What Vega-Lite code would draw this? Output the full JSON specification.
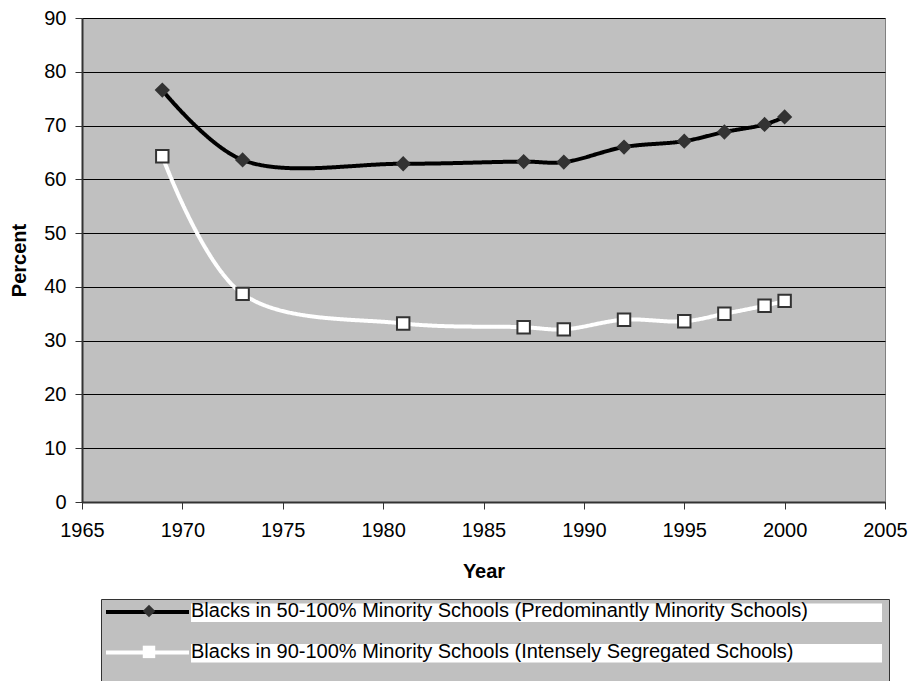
{
  "$schema": "https://vega.github.io/schema/vega-lite/v6.json",
  "width": 803,
  "height": 484,
  "padding": {"left": 9, "top": 8, "right": 0, "bottom": 0},
  "background": "white",
  "config": {
    "font": "Liberation Sans",
    "view": {"fill": "#C0C0C0", "stroke": "#808080", "strokeWidth": 1},
    "axis": {
      "labelFont": "Liberation Sans", "labelFontSize": 20, "labelColor": "black",
      "titleFont": "Liberation Sans", "titleFontSize": 20, "titleFontWeight": "bold", "titleColor": "black",
      "domainColor": "#333333", "domainWidth": 2, "tickColor": "#333333", "tickWidth": 1, "tickSize": 7,
      "gridColor": "black", "gridWidth": 1, "gridOpacity": 1
    }
  },
  "data": {
    "values": [
      {"series": "Blacks in 50-100% Minority Schools (Predominantly Minority Schools)", "year": 1969, "pct": 76.6},
      {"series": "Blacks in 50-100% Minority Schools (Predominantly Minority Schools)", "year": 1973, "pct": 63.6},
      {"series": "Blacks in 50-100% Minority Schools (Predominantly Minority Schools)", "year": 1981, "pct": 62.9},
      {"series": "Blacks in 50-100% Minority Schools (Predominantly Minority Schools)", "year": 1987, "pct": 63.3},
      {"series": "Blacks in 50-100% Minority Schools (Predominantly Minority Schools)", "year": 1989, "pct": 63.2},
      {"series": "Blacks in 50-100% Minority Schools (Predominantly Minority Schools)", "year": 1992, "pct": 66.0},
      {"series": "Blacks in 50-100% Minority Schools (Predominantly Minority Schools)", "year": 1995, "pct": 67.1},
      {"series": "Blacks in 50-100% Minority Schools (Predominantly Minority Schools)", "year": 1997, "pct": 68.8},
      {"series": "Blacks in 50-100% Minority Schools (Predominantly Minority Schools)", "year": 1999, "pct": 70.2},
      {"series": "Blacks in 50-100% Minority Schools (Predominantly Minority Schools)", "year": 2000, "pct": 71.6},
      {"series": "Blacks in 90-100% Minority Schools (Intensely Segregated Schools)", "year": 1969, "pct": 64.3},
      {"series": "Blacks in 90-100% Minority Schools (Intensely Segregated Schools)", "year": 1973, "pct": 38.7},
      {"series": "Blacks in 90-100% Minority Schools (Intensely Segregated Schools)", "year": 1981, "pct": 33.2},
      {"series": "Blacks in 90-100% Minority Schools (Intensely Segregated Schools)", "year": 1987, "pct": 32.5},
      {"series": "Blacks in 90-100% Minority Schools (Intensely Segregated Schools)", "year": 1989, "pct": 32.1},
      {"series": "Blacks in 90-100% Minority Schools (Intensely Segregated Schools)", "year": 1992, "pct": 33.9},
      {"series": "Blacks in 90-100% Minority Schools (Intensely Segregated Schools)", "year": 1995, "pct": 33.6},
      {"series": "Blacks in 90-100% Minority Schools (Intensely Segregated Schools)", "year": 1997, "pct": 35.0},
      {"series": "Blacks in 90-100% Minority Schools (Intensely Segregated Schools)", "year": 1999, "pct": 36.5},
      {"series": "Blacks in 90-100% Minority Schools (Intensely Segregated Schools)", "year": 2000, "pct": 37.4}
    ]
  },
  "encoding": {
    "x": {
      "field": "year", "type": "quantitative",
      "scale": {"domain": [1965, 2005], "nice": false, "zero": false},
      "axis": {"title": "Year", "values": [1965, 1970, 1975, 1980, 1985, 1990, 1995, 2000, 2005], "format": "d", "grid": false, "labelPadding": 11, "titlePadding": 21, "labelFlush": false, "labelOverlap": false}
    },
    "y": {
      "field": "pct", "type": "quantitative",
      "scale": {"domain": [0, 90], "nice": false},
      "axis": {"title": "Percent", "values": [0, 10, 20, 30, 40, 50, 60, 70, 80, 90], "grid": true, "labelPadding": 9, "titlePadding": 14, "labelOverlap": false}
    }
  },
  "layer": [
    {
      "mark": {"type": "line", "interpolate": "catmull-rom", "strokeWidth": 4},
      "encoding": {
        "stroke": {
          "field": "series", "type": "nominal",
          "scale": {"range": ["black", "white"]},
          "legend": {
            "title": " ", "titleOrient": "bottom", "titleFontSize": 30, "titlePadding": 0,
            "orient": "none", "legendX": 19, "legendY": 581, "direction": "vertical", "zindex": 0,
            "fillColor": "#C0C0C0", "strokeColor": "#333333", "padding": 3,
            "symbolType": "M-1,0L-0.7866,0", "symbolSize": 605284, "symbolStrokeWidth": 4,
            "clipHeight": 20, "rowPadding": 20.4,
            "labelExpr": "''", "labelOffset": 0
          }
        },
        "strokeDash": {
          "field": "series", "type": "nominal",
          "scale": {"domain": ["Blacks in 90-100% Minority Schools (Intensely Segregated Schools)", "Blacks in 50-100% Minority Schools (Predominantly Minority Schools)"], "range": [[1, 0], [1, 0]]},
          "legend": {
            "title": null, "orient": "none", "legendX": 19, "legendY": 581, "direction": "vertical", "zindex": 1,
            "padding": 3, "symbolType": "M-0.7763,-0.0219L1.0051,-0.0219L1.0051,0.0334L-0.7763,0.0334Z",
            "symbolSize": 605284, "symbolStrokeWidth": 0, "symbolFillColor": "white", "symbolStrokeColor": "white",
            "symbolOpacity": 1, "clipHeight": 20, "rowPadding": 20.4,
            "labelExpr": "''", "labelOffset": 0
          }
        }
      }
    },
    {
      "mark": {"type": "point", "filled": true, "opacity": 1, "stroke": "#333333", "strokeWidth": 2, "size": 155},
      "encoding": {
        "shape": {
          "field": "series", "type": "nominal",
          "scale": {"domain": ["Blacks in 50-100% Minority Schools (Predominantly Minority Schools)", "Blacks in 90-100% Minority Schools (Intensely Segregated Schools)"], "range": ["diamond", "square"]},
          "legend": {
            "title": null, "orient": "none", "legendX": 57, "legendY": 583, "direction": "vertical", "zindex": 2,
            "padding": 0, "symbolSize": 155, "symbolStrokeColor": "#333333", "symbolStrokeWidth": 2,
            "rowPadding": 18.9, "labelFont": "Liberation Sans", "labelFontSize": 20, "labelColor": "black", "labelOffset": 32, "labelLimit": 900
          }
        },
        "fill": {
          "field": "series", "type": "nominal",
          "scale": {"domain": ["Blacks in 50-100% Minority Schools (Predominantly Minority Schools)", "Blacks in 90-100% Minority Schools (Intensely Segregated Schools)"], "range": ["#333333", "white"]},
          "legend": {
            "title": null, "orient": "none", "legendX": 57, "legendY": 583, "direction": "vertical", "zindex": 2,
            "padding": 0, "symbolSize": 155, "symbolStrokeColor": "#333333", "symbolStrokeWidth": 2,
            "rowPadding": 18.9, "labelFont": "Liberation Sans", "labelFontSize": 20, "labelColor": "black", "labelOffset": 32, "labelLimit": 900
          }
        }
      }
    }
  ]
}
